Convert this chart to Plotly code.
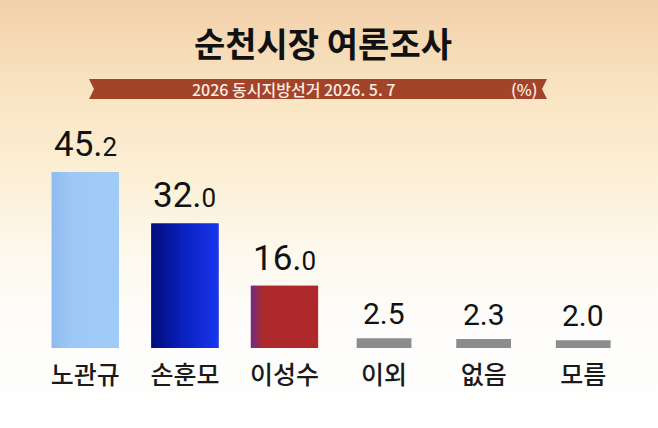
import base64
import plotly.graph_objects as go

# --- data ---
candidates = ["노관규", "손훈모", "이성수", "이외", "없음", "모름"]
support = [45.2, 32.0, 16.0, 2.5, 2.3, 2.0]
value_labels = ["45.2", "32.0", "16.0", "2.5", "2.3", "2.0"]

title_text = "순천시장 여론조사"
subtitle_text = "2026 동시지방선거 2026. 5. 7"
unit_text = "(%)"

# --- styles ---
KR = "Noto Sans CJK KR, Noto Sans, sans-serif"
NUM = "Roboto, Noto Sans, sans-serif"
bar_colors = ["#9dc7f5", "#0a1fb8", "#ad2a2c", "#8c8c8c", "#8c8c8c", "#8c8c8c"]
bar_widths = [0.675, 0.675, 0.675, 0.55, 0.55, 0.55]
gradients = {
    0: [[0, "#90bbf0"], [0.3, "#9ec8f6"], [1, "#a0cbf7"]],
    1: [[0, "#000d7a"], [0.5, "#0a22c0"], [1, "#1836ee"]],
    2: [[0, "#6e2a86"], [0.18, "#ad2a2c"], [1, "#b0292a"]],
}

xs = list(range(len(candidates)))

fig = go.Figure()
fig.add_trace(go.Bar(
    x=xs, y=support, width=bar_widths,
    marker=dict(color=bar_colors, line=dict(width=0)),
    hoverinfo="skip", showlegend=False,
))

# horizontal gradient on the candidate bars
for i, cs in gradients.items():
    w = bar_widths[i] / 2
    fig.add_trace(go.Scatter(
        x=[xs[i] - w, xs[i] + w, xs[i] + w, xs[i] - w, xs[i] - w],
        y=[0, 0, support[i], support[i], 0],
        mode="lines", fill="toself", line=dict(width=0),
        fillgradient=dict(type="horizontal", colorscale=cs),
        hoverinfo="skip", showlegend=False,
    ))

# value labels
for i, lab in enumerate(value_labels):
    if i < 3:
        whole, dec = lab.split(".")
        txt = f"{whole}.<span style='font-size:26px'>{dec}</span>"
        fnt = dict(family=NUM, size=35, color="#111111")
    else:
        txt = lab
        fnt = dict(family=NUM, size=30, color="#111111")
    fig.add_annotation(x=xs[i], y=support[i], text=txt, showarrow=False,
                       yanchor="bottom", yshift=5, font=fnt)

# background gradient
svg = (
    "<svg xmlns='http://www.w3.org/2000/svg' width='658' height='428'>"
    "<defs><linearGradient id='g' x1='0' y1='0' x2='0' y2='1'>"
    "<stop offset='0' stop-color='#f2d0aa'/>"
    "<stop offset='0.22' stop-color='#f9e5c3'/>"
    "<stop offset='0.42' stop-color='#fcf0d6'/>"
    "<stop offset='0.6' stop-color='#fdf9ee'/>"
    "<stop offset='0.75' stop-color='#fdfcfa'/>"
    "<stop offset='1' stop-color='#ffffff'/>"
    "</linearGradient></defs>"
    "<rect width='658' height='428' fill='url(#g)'/></svg>"
)
bg = "data:image/svg+xml;base64," + base64.b64encode(svg.encode()).decode()
fig.add_layout_image(dict(source=bg, xref="paper", yref="paper", x=0, y=1,
                          sizex=1, sizey=1, sizing="stretch", layer="below"))

# ribbon banner
W, H = 658, 428
rx0, rx1, ry0, ry1, notch = 89 / W, 547 / W, 1 - 99 / H, 1 - 79 / H, 5 / W
rym = (ry0 + ry1) / 2
fig.add_shape(type="path", xref="paper", yref="paper",
              path=(f"M {rx0},{ry1} L {rx1},{ry1} L {rx1 - notch},{rym} "
                    f"L {rx1},{ry0} L {rx0},{ry0} L {rx0 + notch},{rym} Z"),
              fillcolor="#a2442a", line=dict(width=0))

fig.add_annotation(x=293 / W, y=rym, xref="paper", yref="paper", text=subtitle_text,
                   xanchor="center", yanchor="middle", showarrow=False,
                   font=dict(family=KR, size=16, color="#fbeee4", weight=500))
fig.add_annotation(x=524 / W, y=rym, xref="paper", yref="paper", text=unit_text,
                   xanchor="center", yanchor="middle", showarrow=False,
                   font=dict(family=KR, size=16, color="#fbeee4", weight=500))

fig.add_annotation(x=323 / W, y=1 - 43 / H, xref="paper", yref="paper",
                   text=f"<b>{title_text}</b>", xanchor="center", yanchor="middle",
                   showarrow=False, font=dict(family=KR, size=34, color="#111111"))

fig.update_layout(
    width=658, height=428,
    margin=dict(l=0, r=0, t=0, b=0),
    paper_bgcolor="white", plot_bgcolor="rgba(0,0,0,0)",
    showlegend=False,
    xaxis=dict(domain=[0.054, 0.962], range=[-0.5, 5.5], tickvals=xs, ticktext=candidates,
               showgrid=False, zeroline=False, showline=False, ticks="",
               ticklabelstandoff=10,
               tickfont=dict(family=KR, size=25, color="#1a1a1a", weight=500),
               fixedrange=True),
    yaxis=dict(domain=[0.187, 0.696], range=[0, 56], visible=False, fixedrange=True),
)

fig.write_html("out.html", config={"displayModeBar": False},
               post_script="document.body.style.margin='0';")
